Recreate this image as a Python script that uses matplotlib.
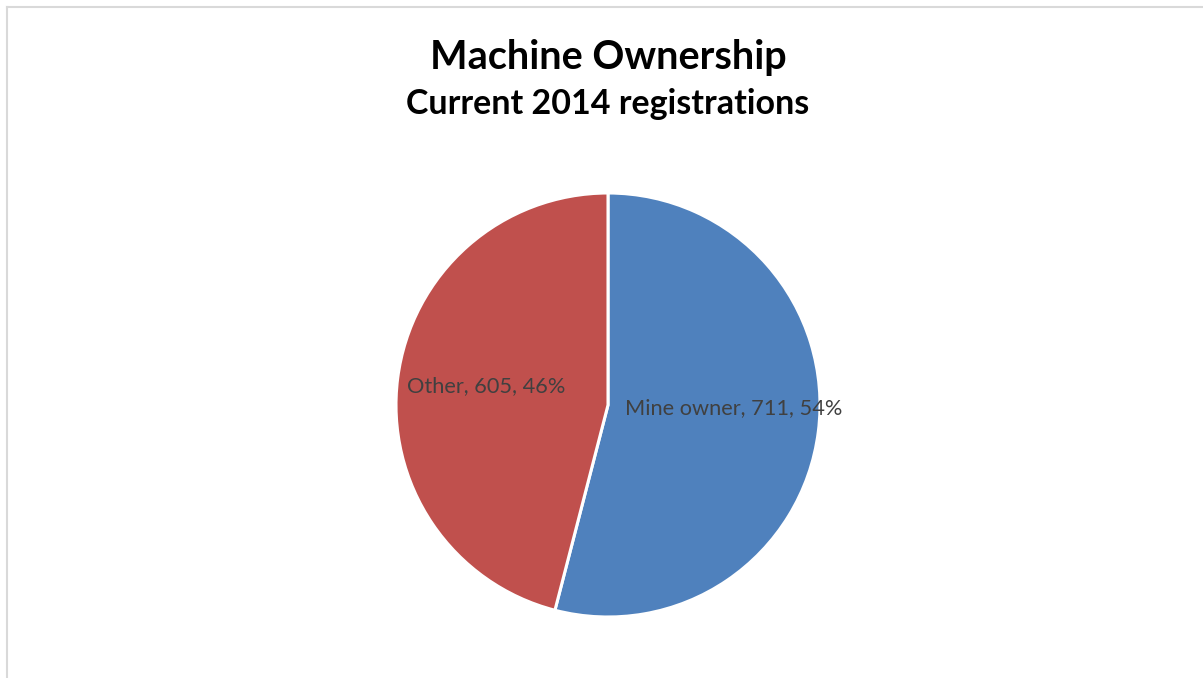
import matplotlib
matplotlib.use("Agg")
import matplotlib.pyplot as plt
from matplotlib.lines import Line2D

categories = ["Mine owner", "Other"]
values = [711, 605]
colors = ["#4F81BD", "#C0504D"]
title = "Machine Ownership"
subtitle = "Current 2014 registrations"

plt.rcParams['font.family'] = ['Lato', 'DejaVu Sans']

W, H = 1203, 678
fig = plt.figure(figsize=(W / 100, H / 100), dpi=100)
fig.patch.set_facecolor("white")

# chart border (top and left visible)
fig.add_artist(Line2D([7 / W, 7 / W], [0, 1 - 7 / H], transform=fig.transFigure, color="#D9D9D9", lw=1.5))
fig.add_artist(Line2D([7 / W, 1], [1 - 7 / H, 1 - 7 / H], transform=fig.transFigure, color="#D9D9D9", lw=1.5))

cx, cy, r = 608, 405, 212
ax = fig.add_axes([(cx - r) / W, (H - cy - r) / H, 2 * r / W, 2 * r / H])
wedges, _ = ax.pie(values, colors=colors, startangle=90, counterclock=False,
                   wedgeprops=dict(edgecolor="white", linewidth=2.2), radius=1)
ax.set_xlim(-1, 1)
ax.set_ylim(-1, 1)
ax.set_aspect("equal")
ax.axis("off")

total = sum(values)
label_pos = {"Mine owner": (0.08, -0.015), "Other": (-0.948, 0.09)}
for cat, v in zip(categories, values):
    x, y = label_pos[cat]
    ax.text(x, y, f"{cat}, {v}, {round(100 * v / total)}%", ha="left", va="center",
            fontsize=15.7, color="#404040")

fig.text(608 / W, 1 - 57 / H, title, ha="center", va="center", fontsize=28.5, fontweight="bold", color="black")
fig.text(608 / W, 1 - 104 / H, subtitle, ha="center", va="center", fontsize=24.5, fontweight="bold", color="black")

fig.savefig("out.png", dpi=100)
